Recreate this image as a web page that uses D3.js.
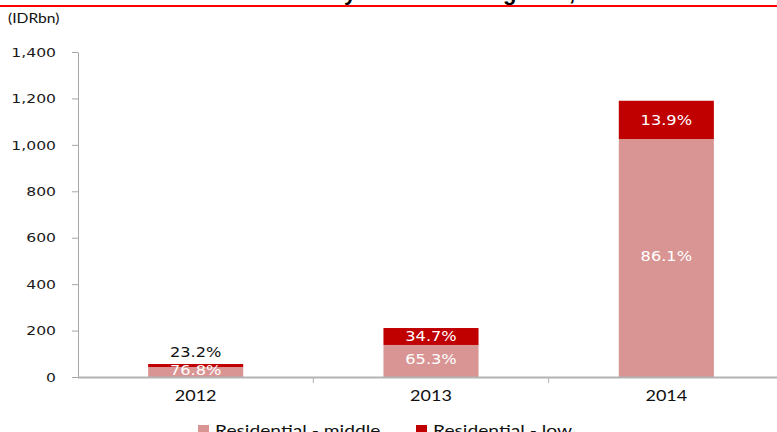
<!DOCTYPE html>
<html>
<head>
<meta charset="utf-8">
<script src="https://cdn.jsdelivr.net/npm/d3@7"></script>
<style>
  body { margin: 0; background: #fff; overflow: hidden; }
  svg { display: block; }
</style>
</head>
<body>
<script>
var years = ['2012', '2013', '2014'];
var middle = [43, 138, 1025];   // Residential - middle (IDRbn)
var low = [13, 73, 165];        // Residential - low (IDRbn)
var middleLabels = ['76.8%', '65.3%', '86.1%'];
var lowLabels = ['23.2%', '34.7%', '13.9%'];
var yTicks = [0, 200, 400, 600, 800, 1000, 1200, 1400];
var seriesNames = ['Residential - middle', 'Residential - low'];
var colors = ['#d99594', '#c00000'];

var w = 777, h = 432;
var margin = {left: 78, right: -7, top: 52, bottom: 55};

var svg = d3.select('body').append('svg')
  .attr('width', w)
  .attr('height', h);

// clipped title (only descenders show) and red rule
var title = svg.append('text')
  .attr('x', 0)
  .attr('y', -0.5)
  .style('font-family', '"Liberation Sans", Arial, sans-serif')
  .style('font-weight', 'bold')
  .style('font-size', '22px')
  .attr('fill', '#000')
  .text('Total sales by residential segment, 2012-2014');
var tNode = title.node();
var yIdx = tNode.textContent.indexOf('by') + 1;
title.attr('x', 344 - tNode.getSubStringLength(0, yIdx));

svg.append('line')
  .attr('x1', 0).attr('x2', w)
  .attr('y1', 6).attr('y2', 6)
  .attr('stroke', '#ff0000')
  .attr('stroke-width', 2);

svg.append('text')
  .attr('class', 'st')
  .attr('x', 8)
  .attr('y', 23)
  .style('font-family', 'Lato, sans-serif')
  .style('font-size', '13px')
  .attr('fill', '#111')
  .text('(IDRbn)');

var x = d3.scaleBand()
  .domain(years)
  .range([margin.left, w - margin.right]);

var y = d3.scaleLinear()
  .domain([0, 1400])
  .range([h - margin.bottom, margin.top]);

var bw = x.bandwidth() * 0.404;

// y axis
var yAxis = d3.axisLeft(y)
  .tickValues(yTicks)
  .tickSize(6)
  .tickSizeOuter(0)
  .tickPadding(16)
  .tickFormat(d3.format(','));

var gy = svg.append('g')
  .attr('transform', `translate(${margin.left},0)`)
  .call(yAxis);
gy.select('.domain').attr('stroke', '#a6a6a6');
gy.selectAll('.tick line').attr('stroke', '#a6a6a6');
gy.selectAll('.tick text')
  .attr('class', 'st')
  .attr('fill', '#1a1a1a')
  .style('font-family', '"DejaVu Sans", Verdana, sans-serif')
  .style('font-size', '13px');

// stacked bars
var stackData = years.map((yr, i) => ({year: yr, middle: middle[i], low: low[i]}));
var stack = d3.stack().keys(['middle', 'low'])(stackData);

svg.selectAll('g.series')
  .data(stack)
  .enter()
  .append('g')
  .attr('class', 'series')
  .attr('fill', (d, i) => colors[i])
  .selectAll('rect')
  .data(d => d)
  .enter()
  .append('rect')
  .attr('x', d => x(d.data.year) + x.bandwidth() / 2 - bw / 2)
  .attr('width', bw)
  .attr('y', d => y(d[1]))
  .attr('height', d => y(d[0]) - y(d[1]));

// x axis line and category ticks
svg.append('line')
  .attr('x1', margin.left).attr('x2', w)
  .attr('y1', y(0) + 0.5).attr('y2', y(0) + 0.5)
  .attr('stroke', '#b3b3b3')
  .attr('stroke-width', 2);

svg.selectAll('line.cat')
  .data(years.slice(1))
  .enter()
  .append('line')
  .attr('class', 'cat')
  .attr('x1', d => x(d)).attr('x2', d => x(d))
  .attr('y1', y(0)).attr('y2', y(0) + 6)
  .attr('stroke', '#b3b3b3');

svg.selectAll('text.year')
  .data(years)
  .enter()
  .append('text')
  .attr('class', 'year st')
  .attr('x', d => x(d) + x.bandwidth() / 2)
  .attr('y', y(0) + 24)
  .attr('text-anchor', 'middle')
  .style('font-family', 'Lato, sans-serif')
  .style('font-size', '15px')
  .attr('fill', '#111')
  .text(d => d);

// percentage labels
var lblFont = '"DejaVu Sans", Verdana, sans-serif';
svg.selectAll('text.mid')
  .data(years)
  .enter()
  .append('text')
  .attr('class', 'mid st')
  .attr('x', d => x(d) + x.bandwidth() / 2)
  .attr('y', (d, i) => (y(0) + y(middle[i])) / 2 - 2)
  .attr('dy', '0.35em')
  .attr('text-anchor', 'middle')
  .style('font-family', lblFont)
  .style('font-size', '13.5px')
  .attr('fill', '#fff')
  .text((d, i) => middleLabels[i]);

svg.selectAll('text.low')
  .data(years)
  .enter()
  .append('text')
  .attr('class', 'low st')
  .attr('x', d => x(d) + x.bandwidth() / 2)
  .attr('y', (d, i) => i === 0
    ? y(middle[i] + low[i]) - 12
    : (y(middle[i]) + y(middle[i] + low[i])) / 2)
  .attr('dy', '0.35em')
  .attr('text-anchor', 'middle')
  .style('font-family', lblFont)
  .style('font-size', '13.5px')
  .attr('fill', (d, i) => i === 0 ? '#111' : '#fff')
  .text((d, i) => lowLabels[i]);

// legend
var legend = svg.append('g').attr('class', 'legend');
var legX = [198, 416];
seriesNames.forEach((name, i) => {
  legend.append('rect')
    .attr('x', legX[i])
    .attr('y', 425)
    .attr('width', 11)
    .attr('height', 11)
    .attr('fill', colors[i]);
  legend.append('text')
    .attr('class', 'st')
    .attr('x', legX[i] + 17)
    .attr('y', 436)
    .style('font-family', 'Lato, sans-serif')
    .style('font-size', '16px')
    .attr('fill', '#111')
    .text(name);
});

// the source picture is stretched horizontally, so widen the text to match
svg.selectAll('text.st').each(function() {
  var len = this.getComputedTextLength();
  d3.select(this)
    .attr('textLength', len * 1.2)
    .attr('lengthAdjust', 'spacingAndGlyphs');
});
</script>
</body>
</html>
